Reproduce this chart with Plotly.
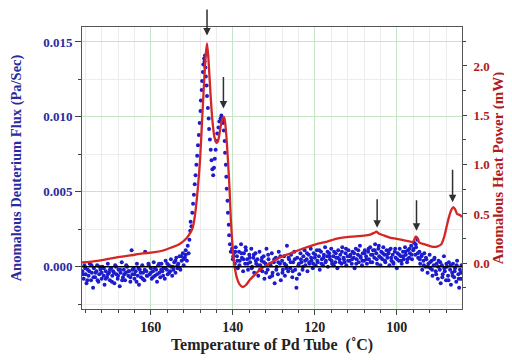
import plotly.graph_objects as go

# ---------------- data ----------------
# Anomalous heat power (mW), right axis
heat_temp = [176.8, 174.0, 171.0, 168.3, 165.0, 162.0, 159.5, 157.0, 155.0, 153.7, 152.5, 151.2,
             150.5, 149.8, 149.2, 148.5, 148.0, 147.5, 147.0, 146.6, 146.3, 146.0, 145.5, 145.0,
             144.5, 144.0, 143.6, 143.0, 142.5, 142.1, 141.7, 141.2, 140.8, 140.5, 140.2, 139.9,
             139.5, 139.0, 138.4, 137.6, 136.8, 135.9, 134.5, 133.0, 131.0, 128.5, 126.0, 122.9,
             120.0, 117.0, 114.6, 111.0, 108.0, 106.5, 105.5, 105.0, 104.3, 103.0, 101.7, 99.0,
             96.8, 96.0, 95.4, 95.0, 94.5, 93.0, 91.5, 90.2, 89.2, 88.5, 87.8, 87.2, 86.6, 86.2,
             85.8, 85.3, 84.6, 84.1]
heat_mw = [0.01, 0.02, 0.04, 0.06, 0.08, 0.10, 0.11, 0.13, 0.16, 0.18, 0.21, 0.26,
           0.30, 0.36, 0.50, 0.78, 1.05, 1.45, 1.85, 2.12, 2.23, 2.10, 1.75, 1.45,
           1.28, 1.22, 1.24, 1.38, 1.47, 1.48, 1.35, 1.05, 0.75, 0.45, 0.25, 0.08,
           -0.05, -0.15, -0.21, -0.24, -0.22, -0.17, -0.11, -0.05, 0.00, 0.06, 0.10, 0.15,
           0.19, 0.22, 0.25, 0.27, 0.28, 0.29, 0.31, 0.32, 0.30, 0.28, 0.26, 0.24,
           0.22, 0.22, 0.27, 0.26, 0.21, 0.19, 0.17, 0.17, 0.19, 0.26, 0.38, 0.48, 0.55, 0.57,
           0.55, 0.50, 0.49, 0.47]

# Anomalous deuterium flux (Pa/Sec), left axis - before the peaks
flux_temp_pre = [176.7, 176.4, 176.2, 175.9, 175.7, 175.4, 175.2, 174.9, 174.6, 174.4, 174.1, 173.9,
                 173.6, 173.3, 173.1, 172.8, 172.6, 172.3, 172.0, 171.8, 171.5, 171.3, 171.0, 170.7,
                 170.5, 170.2, 170.0, 169.7, 169.4, 169.2, 168.9, 168.7, 168.4, 168.1, 167.9, 167.6,
                 167.4, 167.1, 166.8, 166.6, 166.3, 166.1, 165.8, 165.5, 165.3, 165.0, 164.7, 164.5,
                 164.2, 164.0, 163.7, 163.4, 163.2, 162.9, 162.7, 162.4, 162.1, 161.9, 161.6, 161.4,
                 161.1, 160.8, 160.6, 160.3, 160.0, 159.8, 159.5, 159.3, 159.0, 158.7, 158.5, 158.2,
                 157.9, 157.7, 157.4, 157.2, 156.9, 156.6, 156.4, 156.1, 155.9, 155.6, 155.3, 155.1,
                 154.8, 154.6, 154.3, 154.0, 153.8, 153.5, 153.3, 153.0, 152.8, 152.5, 152.2, 152.0,
                 151.7, 151.5, 151.2, 151.0, 150.8]
flux_pre = [-0.0003, -0.0008, 0.0001, -0.0005, -0.0011, -0.0002, -0.0006, 0.0002, -0.0009, -0.0004, -0.0014, -0.0001,
            -0.0007, -0.0003, 0.0001, -0.0010, -0.0005, -0.0002, -0.0008, 0.0000, -0.0006, -0.0012, -0.0003, -0.0007,
            0.0002, -0.0004, -0.0009, -0.0001, -0.0006, -0.0003, -0.0011, 0.0001, -0.0005, -0.0008, -0.0002, -0.0013,
            -0.0004, 0.0003, -0.0007, -0.0002, -0.0009, -0.0004, 0.0000, -0.0006, -0.0003, -0.0010, 0.0011, -0.0005,
            -0.0001, -0.0008, -0.0003, 0.0002, -0.0006, -0.0012, -0.0002, -0.0007, 0.0001, -0.0004, -0.0009, 0.0010,
            -0.0003, -0.0006, 0.0002, -0.0005, -0.0001, -0.0008, -0.0003, 0.0003, -0.0006, -0.0002, -0.0010, 0.0001,
            -0.0004, -0.0007, 0.0002, -0.0003, -0.0001, -0.0008, 0.0004, -0.0002, -0.0005, 0.0001, -0.0003, 0.0005,
            -0.0006, 0.0000, 0.0003, -0.0004, 0.0006, -0.0001, 0.0002, 0.0007, -0.0002, 0.0004, 0.0009, 0.0001,
            0.0006, 0.0011, 0.0004, 0.0014, 0.0009]
flux_temp_pre_b = [176.5, 176.0, 175.5, 175.0, 174.5, 174.0, 173.5, 173.0, 172.5, 172.0, 171.5, 171.0,
                   170.5, 170.0, 169.5, 169.0, 168.5, 168.0, 167.5, 167.0, 166.5, 166.0, 165.5, 165.0,
                   164.5, 164.0, 163.5, 163.0, 162.5, 162.0, 161.5, 161.0, 160.5, 160.0, 159.5, 159.0,
                   158.5, 158.0, 157.5, 157.0, 156.5, 156.0, 155.5, 155.0, 154.5, 154.0, 153.5, 153.0,
                   152.5, 152.0, 151.5]
flux_pre_b = [-0.0005, -0.0001, -0.0009, -0.0003, 0.0001, -0.0007, -0.0004, -0.0009, 0.0000, -0.0004, -0.0001, -0.0008,
              -0.0005, -0.0002, -0.0010, -0.0004, 0.0000, -0.0006, -0.0002, -0.0009, -0.0005, 0.0001, -0.0003, -0.0007,
              -0.0002, -0.0005, -0.0010, -0.0001, -0.0004, -0.0008, -0.0002, -0.0006, 0.0001, -0.0004, -0.0007, -0.0001,
              -0.0005, 0.0002, -0.0002, -0.0006, -0.0001, 0.0002, -0.0004, 0.0000, -0.0002, 0.0004, 0.0001, -0.0001,
              0.0007, 0.0005, 0.0008]

# flux through the two peaks
flux_temp_peak = [150.6, 150.4, 150.3, 150.1, 149.9, 149.7, 149.5, 149.3, 149.1, 148.9, 148.7, 148.5,
                  148.3, 148.1, 147.9, 147.8, 147.6, 147.5, 147.3, 147.2, 147.0, 146.9, 146.8, 146.7,
                  146.6, 146.4, 146.3, 146.1, 145.9, 145.8, 145.6, 145.4, 145.2, 145.0, 144.8, 144.6,
                  144.4, 144.2, 144.0, 143.8, 143.5, 143.3, 143.0, 142.8, 142.6, 142.4, 142.2, 142.0,
                  141.9, 141.7, 141.6, 141.5, 141.3, 141.2, 141.0, 140.9, 140.7, 140.5]
flux_peak = [0.0018, 0.0024, 0.0030, 0.0027, 0.0036, 0.0042, 0.0048, 0.0055, 0.0061, 0.0068, 0.0074, 0.0081,
             0.0088, 0.0096, 0.0104, 0.0111, 0.0118, 0.0124, 0.0130, 0.0135, 0.0139, 0.0137, 0.0141, 0.0133,
             0.0127, 0.0121, 0.0114, 0.0106, 0.0099, 0.0092, 0.0085, 0.0078, 0.0071, 0.0065, 0.0061, 0.0066,
             0.0072, 0.0078, 0.0084, 0.0089, 0.0093, 0.0097, 0.0099, 0.0101, 0.0098, 0.0096, 0.0091, 0.0084,
             0.0076, 0.0068, 0.0060, 0.0052, 0.0044, 0.0036, 0.0028, 0.0021, 0.0015, 0.0010]

# flux after the peaks
flux_temp_post = [140.2, 140.0, 139.8, 139.5, 139.3, 139.0, 138.8, 138.5, 138.3, 138.0, 137.8, 137.5,
                  137.3, 137.0, 136.8, 136.5, 136.3, 136.0, 135.8, 135.5, 135.3, 135.0, 134.8, 134.5,
                  134.3, 134.0, 133.8, 133.5, 133.3, 133.0, 132.8, 132.5, 132.3, 132.0, 131.8, 131.5,
                  131.3, 131.0, 130.8, 130.5, 130.3, 130.0, 129.8, 129.5, 129.3, 129.0, 128.8, 128.5,
                  128.3, 128.0, 127.8, 127.5, 127.3, 127.0, 126.8, 126.5, 126.3, 126.0, 125.8, 125.5,
                  125.3, 125.0, 124.8, 124.5, 124.3, 124.0, 123.8, 123.5, 123.3, 123.0, 122.8, 122.5,
                  122.3, 122.0, 121.8, 121.5, 121.3, 121.0, 120.8, 120.5, 120.3, 120.0, 119.8, 119.5,
                  119.3, 119.0, 118.8, 118.5, 118.3, 118.0, 117.8, 117.5, 117.3, 117.0, 116.8, 116.5,
                  116.3, 116.0, 115.8, 115.5, 115.3, 115.0, 114.8, 114.5, 114.3, 114.0, 113.8, 113.5,
                  113.3, 113.0, 112.8, 112.5, 112.3, 112.0, 111.8, 111.5, 111.3, 111.0, 110.8, 110.5,
                  110.3, 110.0, 109.8, 109.5, 109.3, 109.0, 108.8, 108.5, 108.3, 108.0, 107.8, 107.5,
                  107.3, 107.0, 106.8, 106.5, 106.3, 106.0, 105.8, 105.5, 105.3, 105.0, 104.8, 104.5,
                  104.3, 104.0, 103.8, 103.5, 103.3, 103.0, 102.8, 102.5, 102.3, 102.0, 101.8, 101.5,
                  101.3, 101.0, 100.8, 100.5, 100.3, 100.0, 99.8, 99.5, 99.3, 99.0, 98.8, 98.5,
                  98.3, 98.0, 97.8, 97.5, 97.3, 97.0, 96.8, 96.5, 96.3, 96.0, 95.8, 95.5,
                  95.3, 95.0, 94.8, 94.5, 94.3, 94.0, 93.8, 93.5, 93.3, 93.0, 92.8, 92.5,
                  92.3, 92.0, 91.8, 91.5, 91.3, 91.0, 90.8, 90.5, 90.3, 90.0, 89.8, 89.5,
                  89.3, 89.0, 88.8, 88.5, 88.3, 88.0, 87.8, 87.5, 87.3, 87.0, 86.8, 86.5,
                  86.3, 86.0, 85.8, 85.5, 85.3, 85.0, 84.8, 84.6, 84.4, 84.2]
flux_post = [0.0012, 0.0005, 0.0009, 0.0002, 0.0013, 0.0007, -0.0001, 0.0010, 0.0004, 0.0015, 0.0006, -0.0003,
             0.0009, 0.0002, 0.0011, 0.0005, -0.0002, 0.0008, 0.0003, 0.0012, 0.0000, 0.0006, -0.0004, 0.0009,
             0.0002, 0.0005, -0.0006, 0.0010, 0.0001, 0.0004, -0.0003, 0.0007, -0.0008, 0.0002, 0.0012, -0.0002,
             0.0005, -0.0007, 0.0001, 0.0009, -0.0004, 0.0003, -0.0011, 0.0006, 0.0000, -0.0005, 0.0010, 0.0002,
             -0.0009, 0.0004, -0.0002, 0.0007, -0.0006, 0.0001, 0.0014, -0.0003, 0.0005, -0.0001, 0.0008, -0.0007,
             0.0003, 0.0010, -0.0002, -0.0014, 0.0006, 0.0001, -0.0005, 0.0009, 0.0003, -0.0002, 0.0007, 0.0011,
             0.0001, 0.0005, -0.0003, 0.0008, 0.0002, 0.0012, 0.0004, -0.0001, 0.0009, 0.0006, 0.0001, 0.0011,
             0.0003, 0.0007, -0.0002, 0.0010, 0.0005, 0.0001, 0.0008, 0.0013, 0.0004, 0.0007, 0.0000, 0.0009,
             0.0005, 0.0012, 0.0002, 0.0007, 0.0010, 0.0003, 0.0006, -0.0001, 0.0011, 0.0005, 0.0008, 0.0002,
             0.0013, 0.0006, 0.0003, 0.0009, 0.0001, 0.0007, 0.0011, 0.0004, 0.0008, 0.0002, 0.0010, 0.0006,
             -0.0001, 0.0012, 0.0005, 0.0008, 0.0003, 0.0014, 0.0006, 0.0001, 0.0009, 0.0004, 0.0011, 0.0007,
             0.0002, 0.0010, 0.0005, 0.0013, 0.0008, 0.0003, 0.0011, 0.0006, 0.0015, 0.0009, 0.0002, 0.0012,
             0.0007, 0.0001, 0.0010, 0.0005, 0.0013, 0.0008, 0.0003, 0.0011, 0.0006, 0.0009, 0.0001, 0.0012,
             0.0004, 0.0008, 0.0002, 0.0010, 0.0006, -0.0001, 0.0009, 0.0004, 0.0012, 0.0007, 0.0002, 0.0010,
             0.0005, 0.0013, 0.0008, 0.0003, 0.0011, 0.0006, 0.0009, 0.0014, 0.0005, 0.0011, 0.0016, 0.0008,
             0.0013, 0.0018, 0.0006, 0.0010, 0.0002, 0.0007, -0.0002, 0.0004, 0.0009, 0.0000, 0.0005, -0.0004,
             0.0002, 0.0008, -0.0001, 0.0004, -0.0006, 0.0001, 0.0006, -0.0003, 0.0002, -0.0008, 0.0004, -0.0002,
             -0.0011, 0.0001, -0.0005, 0.0007, -0.0003, -0.0009, 0.0000, -0.0006, 0.0003, -0.0002, -0.0012, -0.0004,
             0.0002, -0.0007, -0.0001, -0.0010, 0.0004, -0.0005, -0.0014, -0.0002, -0.0008, 0.0001]
flux_temp_post_b = [139.9, 139.4, 138.9, 138.4, 137.9, 137.4, 136.9, 136.4, 135.9, 135.4, 134.9, 134.4,
                    133.9, 133.4, 132.9, 132.4, 131.9, 131.4, 130.9, 130.4, 129.9, 129.4, 128.9, 128.4,
                    127.9, 127.4, 126.9, 126.4, 125.9, 125.4, 124.9, 124.4, 123.9, 123.4, 122.9, 122.4,
                    121.9, 121.4, 120.9, 120.4, 119.9, 119.4, 118.9, 118.4, 117.9, 117.4, 116.9, 116.4,
                    115.9, 115.4, 114.9, 114.4, 113.9, 113.4, 112.9, 112.4, 111.9, 111.4, 110.9, 110.4,
                    109.9, 109.4, 108.9, 108.4, 107.9, 107.4, 106.9, 106.4, 105.9, 105.4, 104.9, 104.4,
                    103.9, 103.4, 102.9, 102.4, 101.9, 101.4, 100.9, 100.4, 99.9, 99.4, 98.9, 98.4,
                    97.9, 97.4, 96.9, 96.4, 95.9, 95.4, 94.9, 94.4, 93.9, 93.4, 92.9, 92.4,
                    91.9, 91.4, 90.9, 90.4, 89.9, 89.4, 88.9, 88.4, 87.9, 87.4, 86.9, 86.4,
                    85.9, 85.4, 84.9, 84.4]
flux_post_b = [0.0007, 0.0010, 0.0004, 0.0001, 0.0009, 0.0005, 0.0013, 0.0002, 0.0006, -0.0001, 0.0008, 0.0004,
               0.0001, -0.0002, 0.0006, 0.0003, -0.0004, 0.0008, 0.0002, -0.0006, 0.0005, -0.0002, 0.0003, 0.0007,
               -0.0004, 0.0002, -0.0001, 0.0006, 0.0003, -0.0003, 0.0005, -0.0008, 0.0002, 0.0005, 0.0000, 0.0004,
               0.0009, 0.0003, 0.0006, 0.0002, 0.0008, 0.0004, 0.0011, 0.0002, 0.0006, 0.0003, 0.0010, 0.0007,
               0.0004, 0.0001, 0.0009, 0.0006, 0.0003, 0.0010, 0.0005, 0.0012, 0.0004, 0.0007, 0.0005, 0.0009,
               0.0002, 0.0011, 0.0007, 0.0004, 0.0009, 0.0005, 0.0012, 0.0003, 0.0008, 0.0011, 0.0005, 0.0014,
               0.0006, 0.0009, 0.0004, 0.0008, 0.0011, 0.0006, 0.0003, 0.0012, 0.0005, 0.0008, 0.0004, 0.0007,
               0.0010, 0.0005, 0.0012, 0.0008, 0.0012, 0.0015, 0.0009, 0.0005, 0.0008, 0.0001, 0.0006, 0.0000,
               0.0003, -0.0002, 0.0005, -0.0005, 0.0000, 0.0003, -0.0007, -0.0001, 0.0002, -0.0009, 0.0001, -0.0006,
               -0.0003, 0.0001, -0.0008, -0.0004]

# arrows marking heat peaks (temperature, heat power at arrow tip)
arrow_temp = [146.3, 142.3, 104.8, 95.2, 86.4]
arrow_tip_mw = [2.31, 1.57, 0.36, 0.33, 0.62]
arrow_len_px = [35, 33, 30, 32, 34]

# tick labels
x_ticks = [160, 140, 120, 100]
flux_ticks = [0.000, 0.005, 0.010, 0.015]
heat_ticks = [0.0, 0.5, 1.0, 1.5, 2.0]

# ---------------- figure ----------------
BLUE = "#1c1ccc"
BLUE_TXT = "#2a2aa0"
RED = "#d42626"
RED_TXT = "#b01c1c"
SERIF = "Liberation Serif"

fig = go.Figure()
for tx, fx in [(flux_temp_pre, flux_pre), (flux_temp_pre_b, flux_pre_b),
               (flux_temp_peak, flux_peak),
               (flux_temp_post, flux_post), (flux_temp_post_b, flux_post_b)]:
    fig.add_trace(go.Scatter(x=tx, y=fx, mode="markers", yaxis="y",
                             marker=dict(size=4, color=BLUE, line=dict(width=0)),
                             showlegend=False, hoverinfo="skip"))

fig.add_trace(go.Scatter(x=heat_temp, y=heat_mw, mode="lines", yaxis="y2",
                         line=dict(color=RED, width=2.3, shape="spline", smoothing=0.6),
                         showlegend=False, hoverinfo="skip"))

# zero line of the flux axis
fig.add_shape(type="line", xref="paper", x0=0, x1=1, yref="y", y0=0, y1=0,
              line=dict(color="black", width=1.5), layer="above")

for t, tip, ln in zip(arrow_temp, arrow_tip_mw, arrow_len_px):
    fig.add_annotation(x=t, y=tip, xref="x", yref="y2", text="", showarrow=True,
                       ax=0, ay=-ln, arrowhead=2, arrowsize=1, arrowwidth=1.5,
                       arrowcolor="#303030", standoff=0)

# the page adds an 8px body margin, so the figure is sized and placed to compensate
fig.update_layout(
    width=504, height=354,
    margin=dict(l=74, r=50, t=19, b=53, autoexpand=False),
    paper_bgcolor="white", plot_bgcolor="white",
    showlegend=False,
    xaxis=dict(
        range=[176.8, 84.1], tickvals=x_ticks, ticktext=[str(v) for v in x_ticks],
        showgrid=True, gridcolor="#c4e6c4", gridwidth=1,
        minor=dict(dtick=4, tick0=0, showgrid=True, gridcolor="#ececec", ticks="outside",
                   ticklen=3, tickcolor="#444"),
        ticks="outside", ticklen=5, tickcolor="#444",
        showline=True, linecolor="#555", linewidth=1, mirror=True,
        zeroline=False, automargin=False,
        tickfont=dict(family=SERIF, size=14, color="#222", weight="bold"),
        title=dict(text="Temperature of Pd Tube  (˚C)", standoff=5,
                   font=dict(family=SERIF, size=16, color="#222", weight="bold")),
    ),
    yaxis=dict(
        range=[-0.00282, 0.0160], tickvals=flux_ticks,
        ticktext=[f"{v:.3f}" for v in flux_ticks],
        showgrid=True, gridcolor="#c4e6c4", gridwidth=1,
        minor=dict(dtick=0.0025, tick0=0, showgrid=True, gridcolor="#ececec",
                   ticks="outside", ticklen=3, tickcolor="#444"),
        ticks="outside", ticklen=6, tickcolor="#444",
        showline=True, linecolor="#555", linewidth=1,
        zeroline=False, automargin=False,
        tickfont=dict(family=SERIF, size=13, color=BLUE_TXT, weight="bold"),
        title=dict(text="Anomalous Deuterium Flux (Pa/Sec)", standoff=19,
                   font=dict(family=SERIF, size=14.5, color=BLUE_TXT, weight="bold")),
    ),
    yaxis2=dict(
        overlaying="y", side="right",
        range=[-0.463, 2.395], tickvals=heat_ticks,
        ticktext=[f"{v:.1f}" for v in heat_ticks],
        showgrid=False, zeroline=False, automargin=False,
        minor=dict(dtick=0.25, tick0=0, ticks="outside", ticklen=3, tickcolor="#444"),
        ticks="outside", ticklen=4, tickcolor="#444", ticklabelstandoff=4,
        showline=True, linecolor="#555", linewidth=1,
        tickfont=dict(family=SERIF, size=13, color=RED_TXT, weight="bold"),
        title=dict(text="Anomalous Heat Power (mW)", standoff=0,
                   font=dict(family=SERIF, size=15, color=RED_TXT, weight="bold")),
    ),
)

fig.write_html("out.html")
